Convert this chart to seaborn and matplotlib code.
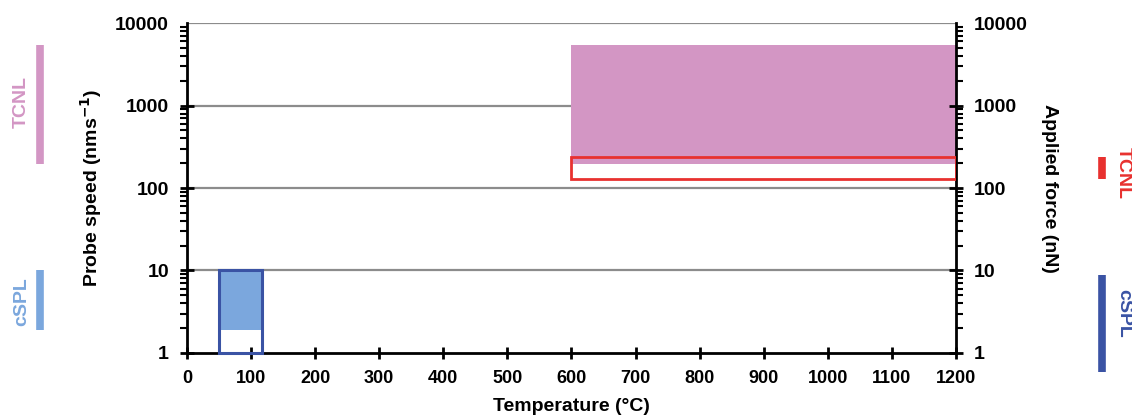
import matplotlib
matplotlib.use("Agg")
import matplotlib.pyplot as plt
import matplotlib.transforms as mtransforms
from matplotlib.patches import Rectangle
from matplotlib.ticker import LogLocator, FixedLocator
import seaborn as sns

# Temperature windows (degC)
tcnl_temp = [600, 1200]
cspl_temp = [50, 117]
# Probe speed ranges (nm/s)
tcnl_speed = [195, 5400]
cspl_speed = [1.9, 10]
# Applied force ranges (nN)
tcnl_force = [127, 240]
cspl_force = [1, 10]
cspl_force_bar = [0.59, 8.8]

x_ticks = list(range(0, 1300, 100))
y_ticks = [1, 10, 100, 1000, 10000]

pink = "#D396C4"
light_blue = "#7BA7DD"
dark_blue = "#3A53A4"
red = "#E8312F"

sns.set_theme(style="white")
plt.rcParams["font.family"] = ["Liberation Sans", "DejaVu Sans"]
plt.rcParams["font.weight"] = "bold"
for k in ("text.color", "axes.labelcolor", "xtick.color", "ytick.color"):
    plt.rcParams[k] = "black"

fig = plt.figure(figsize=(11.32, 4.17), dpi=100)
ax = fig.add_axes([0.1652, 0.1535, 0.6793, 0.7913])
ax2 = ax.twinx()

for a in (ax, ax2):
    a.set_yscale("log")
    a.set_ylim(1, 10000)
ax.set_xlim(0, 1200)

# grid lines at decades
for v in y_ticks[1:]:
    ax.axhline(v, color="#8c8c8c", lw=1.6, zorder=0)

# filled speed windows
ax.fill_between(tcnl_temp, tcnl_speed[0], tcnl_speed[1], color=pink, lw=0, zorder=1)
ax.fill_between(cspl_temp, cspl_speed[0], cspl_speed[1], color=light_blue, lw=0, zorder=1)

# outlined force windows
ax2.add_patch(Rectangle((tcnl_temp[0], tcnl_force[0]), tcnl_temp[1] - tcnl_temp[0],
                        tcnl_force[1] - tcnl_force[0], fill=False, ec=red, lw=2, zorder=3))
ax2.add_patch(Rectangle((cspl_temp[0], cspl_force[0]), cspl_temp[1] - cspl_temp[0],
                        cspl_force[1] - cspl_force[0], fill=False, ec=dark_blue, lw=2.2,
                        zorder=3, clip_on=False))

# side bars outside the axes
tr = mtransforms.blended_transform_factory(ax.transAxes, ax.transData)
ax.plot([-0.191, -0.191], tcnl_speed, color=pink, lw=5.5, clip_on=False,
        solid_capstyle="butt", transform=tr)
ax.plot([-0.191, -0.191], cspl_speed, color=light_blue, lw=5.5, clip_on=False,
        solid_capstyle="butt", transform=tr)
ax.text(-0.215, 1100, "TCNL", transform=tr, rotation=90, color=pink, fontsize=14,
        fontweight="bold", ha="center", va="center")
ax.text(-0.215, 4.2, "cSPL", transform=tr, rotation=90, color=light_blue, fontsize=14,
        fontweight="bold", ha="center", va="center")

tr2 = mtransforms.blended_transform_factory(ax2.transAxes, ax2.transData)
ax2.plot([1.19, 1.19], tcnl_force, color=red, lw=5.5, clip_on=False, solid_capstyle="butt",
         transform=tr2)
ax2.plot([1.19, 1.19], cspl_force_bar, color=dark_blue, lw=5.5, clip_on=False,
         solid_capstyle="butt", transform=tr2)
ax2.text(1.218, 152, "TCNL", transform=tr2, rotation=-90, color=red, fontsize=14,
         fontweight="bold", ha="center", va="center")
ax2.text(1.218, 3.05, "cSPL", transform=tr2, rotation=-90, color=dark_blue, fontsize=14,
         fontweight="bold", ha="center", va="center")

# spines
for a in (ax, ax2):
    for s in a.spines.values():
        s.set_visible(False)
ax.spines["left"].set_visible(True)
ax.spines["bottom"].set_visible(True)
ax2.spines["right"].set_visible(True)
for s in (ax.spines["left"], ax.spines["bottom"], ax2.spines["right"]):
    s.set_color("black")
    s.set_linewidth(2)

# ticks
ax.xaxis.set_major_locator(FixedLocator(x_ticks))
ax.set_xticklabels([str(t) for t in x_ticks], fontsize=13, fontweight="bold")
ax.tick_params(axis="x", direction="inout", length=9, width=2, color="black", pad=8,
               bottom=True, top=False)

for a, side in ((ax, "left"), (ax2, "right")):
    a.yaxis.set_major_locator(FixedLocator(y_ticks))
    a.yaxis.set_minor_locator(LogLocator(base=10, subs=range(2, 10)))
    a.set_yticklabels([str(t) for t in y_ticks], fontsize=14, fontweight="bold")
    a.tick_params(axis="y", which="major", direction="inout", length=10, width=2,
                  color="black", pad=8, left=(side == "left"), right=(side == "right"))
    a.tick_params(axis="y", which="minor", direction="out", length=5, width=1.5,
                  color="black", left=(side == "left"), right=(side == "right"))
    top_tick = a.yaxis.get_major_ticks()[-1]
    top_tick.tick1line.set_visible(False)
    top_tick.tick2line.set_visible(False)

ax.set_xlabel("Temperature (\u00b0C)", fontsize=14, fontweight="bold", labelpad=8)
ax.set_ylabel("Probe speed (nms$^{\\mathbf{-1}}$)", fontsize=14, fontweight="bold", labelpad=8)
ax2.set_ylabel("Applied force (nN)", fontsize=14, fontweight="bold", rotation=-90, labelpad=22)

fig.savefig("out.png", dpi=100)
